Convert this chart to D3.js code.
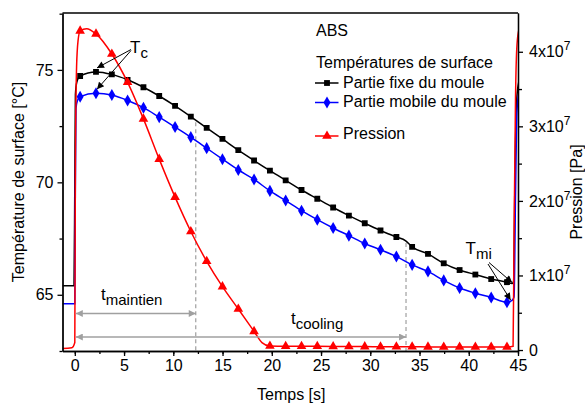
<!DOCTYPE html>
<html>
<head>
<meta charset="utf-8">
<script src="https://cdn.jsdelivr.net/npm/d3@7"></script>
<style>
  body { margin: 0; background: #fff; }
  svg { font-family: "Liberation Sans", Arial, sans-serif; }
</style>
</head>
<body>
<div id="chart"></div>
<script>
// marker times [s]
var tMarks = [0.54, 2.15, 3.76, 5.36, 6.97, 8.57, 10.18, 11.78, 13.39, 14.99, 16.6, 18.2, 19.81, 21.41,
              23.02, 24.62, 26.23, 27.83, 29.44, 31.04, 32.65, 34.25, 35.86, 37.46, 39.07, 40.67, 42.28, 43.88];
// Partie fixe du moule [°C]
var fixe = [74.73, 74.91, 74.8, 74.56, 74.23, 73.84, 73.4, 72.92, 72.42, 71.93, 71.43, 70.97, 70.52, 70.09,
            69.66, 69.27, 68.88, 68.52, 68.18, 67.86, 67.57, 67.13, 66.82, 66.4, 66.1, 65.9, 65.7, 65.56];
// Partie mobile du moule [°C]
var mobile = [73.81, 73.96, 73.88, 73.64, 73.32, 72.9, 72.46, 72.01, 71.52, 71.03, 70.55, 70.13, 69.62, 69.19,
              68.74, 68.34, 67.97, 67.63, 67.28, 67.0, 66.7, 66.33, 66.04, 65.64, 65.3, 65.07, 64.88, 64.67];
// Pression [x1e7 Pa]
var pression = [4.28, 4.24, 3.97, 3.59, 3.1, 2.56, 2.05, 1.59, 1.19, 0.85, 0.55, 0.25, 0.054, 0.05,
                0.05, 0.05, 0.048, 0.047, 0.046, 0.045, 0.044, 0.043, 0.042, 0.041, 0.04, 0.04, 0.04, 0.04];

// extra curve points between markers (start of cycle, end of cycle, kinks)
var fixeExtra = [[-1.25, 65.4], [-0.08, 65.4], [0.0, 70.0], [0.06, 73.9], [0.2, 74.45], [33.6, 67.4],
                 [44.4, 65.5], [44.55, 65.6], [44.7, 70.5], [44.85, 73.6], [45.1, 74.5]];
var mobileExtra = [[-1.25, 64.6], [0.0, 64.6], [0.05, 69.5], [0.12, 73.3], [0.28, 73.65],
                   [44.4, 64.75], [44.6, 64.9], [44.75, 69.5], [44.9, 73.2], [45.1, 74.0]];
var pressionExtra = [[-1.25, 0.02], [-0.3, 0.03], [0.0, 0.1], [0.06, 2.5], [0.18, 3.8], [0.33, 4.15],
                     [1.2, 4.31], [19.0, 0.1], [44.5, 0.05], [44.6, 1.5], [44.75, 3.4], [44.9, 4.1], [45.1, 4.3]];

var xTicks = [0, 5, 10, 15, 20, 25, 30, 35, 40, 45];
var yLeftTicks = [65, 70, 75];
var yRightTicks = [0, 1, 2, 3, 4];

var W = 585, H = 407;
var pLeft = 62.5, pRight = 518, pTop = 13, pBottom = 351;

var svg = d3.select('#chart').append('svg')
    .attr('width', W).attr('height', H);

var x = d3.scaleLinear().domain([-1.25, 45]).range([pLeft, pRight]);
var yL = d3.scaleLinear().domain([62.5, 77.53]).range([pBottom, pTop]);
var yR = d3.scaleLinear().domain([-0.013, 4.52]).range([pBottom, pTop]);

var defs = svg.append('defs');
defs.append('clipPath').attr('id', 'plot')
  .append('rect').attr('x', pLeft).attr('y', pTop).attr('width', pRight - pLeft).attr('height', pBottom - pTop);

function merge(vals, extra) {
    var pts = tMarks.map(function(t, i) { return [t, vals[i]]; }).concat(extra);
    pts.sort(function(a, b) { return a[0] - b[0]; });
    return pts;
}

var series = [
    {name: 'Partie fixe du moule', vals: fixe, extra: fixeExtra, y: yL, color: '#000', sym: d3.symbolSquare, size: 34},
    {name: 'Partie mobile du moule', vals: mobile, extra: mobileExtra, y: yL, color: '#0000ff', sym: d3.symbolDiamond, size: 42},
    {name: 'Pression', vals: pression, extra: pressionExtra, y: yR, color: '#ff0000', sym: d3.symbolTriangle, size: 40}
];

// dashed markers of the time intervals
var gray = '#a0a0a0';
var fixePts = merge(fixe, fixeExtra);
[12.28, 33.63].forEach(function(t) {
    var i = d3.bisector(function(d) { return d[0]; }).left(fixePts, t);
    var a = fixePts[i - 1], b = fixePts[i];
    var v = a[1] + (b[1] - a[1]) * (t - a[0]) / (b[0] - a[0]);
    svg.append('line')
        .attr('x1', x(t)).attr('x2', x(t))
        .attr('y1', yL(v) + 2).attr('y2', pBottom)
        .attr('stroke', gray).attr('stroke-width', 1.2).attr('stroke-dasharray', '4,3');
});

var plot = svg.append('g').attr('clip-path', 'url(#plot)');

series.forEach(function(s) {
    var line = d3.line()
        .x(function(d) { return x(d[0]); })
        .y(function(d) { return s.y(d[1]); })
        .curve(d3.curveMonotoneX);
    plot.append('path')
        .datum(merge(s.vals, s.extra))
        .attr('d', line)
        .attr('fill', 'none')
        .attr('stroke', s.color)
        .attr('stroke-width', 1.5);
    plot.selectAll(null)
        .data(tMarks)
        .enter().append('path')
        .attr('d', d3.symbol().type(s.sym).size(s.size))
        .attr('transform', function(t, i) { return 'translate(' + x(t) + ',' + s.y(s.vals[i]) + ')'; })
        .attr('fill', s.color);
});

// axes
function styleAxis(g) {
    g.select('.domain').attr('stroke', '#000').attr('stroke-width', 1.3);
    g.selectAll('.tick line').attr('stroke', '#000').attr('stroke-width', 1.3);
    g.selectAll('.tick text').attr('font-size', 16).attr('fill', '#000')
        .attr('font-family', '"Liberation Sans", Arial, sans-serif');
}

var minorX = d3.range(0, 45.1, 2.5);
svg.append('g').attr('transform', 'translate(0,' + pBottom + ')')
    .call(d3.axisBottom(x).tickValues(minorX).tickSize(3).tickFormat('').tickSizeOuter(0)).call(styleAxis);
svg.append('g').attr('transform', 'translate(0,' + pBottom + ')')
    .call(d3.axisBottom(x).tickValues(xTicks).tickSize(5).tickPadding(4).tickSizeOuter(0)).call(styleAxis);

svg.append('g').attr('transform', 'translate(' + pLeft + ',0)')
    .call(d3.axisLeft(yL).tickValues([62.5, 67.5, 72.5, 77.5]).tickSize(3).tickFormat('').tickSizeOuter(0)).call(styleAxis);
svg.append('g').attr('transform', 'translate(' + pLeft + ',0)')
    .call(d3.axisLeft(yL).tickValues(yLeftTicks).tickSize(5).tickPadding(4).tickSizeOuter(0)).call(styleAxis);

svg.append('g').attr('transform', 'translate(' + pRight + ',0)')
    .call(d3.axisRight(yR).tickValues([0.5, 1.5, 2.5, 3.5]).tickSize(4).tickFormat('').tickSizeOuter(0)).call(styleAxis);
var rAxis = svg.append('g').attr('transform', 'translate(' + pRight + ',0)')
    .call(d3.axisRight(yR).tickValues(yRightTicks).tickSize(5).tickPadding(6).tickSizeOuter(0)).call(styleAxis);
rAxis.selectAll('.tick text').each(function(d) {
    var t = d3.select(this).text('');
    if (d === 0) { t.text('0'); return; }
    t.append('tspan').text(d + 'x10');
    t.append('tspan').attr('dy', -7).attr('font-size', 12).text('7');
});

// top frame
svg.append('line').attr('x1', pLeft).attr('x2', pRight).attr('y1', pTop).attr('y2', pTop)
    .attr('stroke', '#000').attr('stroke-width', 1.3);

// axis titles
svg.append('text').attr('x', (pLeft + pRight) / 2 + 1).attr('y', 400)
    .attr('text-anchor', 'middle').attr('font-size', 16).text('Temps [s]');
svg.append('text').attr('transform', 'translate(24,' + ((pTop + pBottom) / 2) + ') rotate(-90)')
    .attr('text-anchor', 'middle').attr('font-size', 16).text('Température de surface [°C]');
svg.append('text').attr('transform', 'translate(582,192) rotate(-90)')
    .attr('text-anchor', 'middle').attr('font-size', 16).text('Pression [Pa]');

// legend
svg.append('text').attr('x', 316).attr('y', 36).attr('font-size', 16).text('ABS');
svg.append('text').attr('x', 316).attr('y', 67.5).attr('font-size', 16).text('Températures de surface');
var legY = [83, 102.5, 136];
var legTextY = [87.5, 106.5, 139];
series.forEach(function(s, i) {
    svg.append('line').attr('x1', 315).attr('x2', 338.5).attr('y1', legY[i]).attr('y2', legY[i])
        .attr('stroke', s.color).attr('stroke-width', 1.5);
    svg.append('path').attr('d', d3.symbol().type(s.sym).size(s.size))
        .attr('transform', 'translate(327,' + legY[i] + ')').attr('fill', s.color);
    svg.append('text').attr('x', 343).attr('y', legTextY[i]).attr('font-size', 16).text(s.name);
});

// arrow heads
function marker(id, color) {
    defs.append('marker').attr('id', id)
        .attr('viewBox', '0 0 10 10').attr('refX', 10).attr('refY', 5)
        .attr('markerWidth', 10).attr('markerHeight', 7).attr('markerUnits', 'userSpaceOnUse')
        .attr('orient', 'auto-start-reverse')
        .append('path').attr('d', 'M0,0 L10,5 L0,10 z').attr('fill', color);
}
marker('arrBlack', '#000');
marker('arrGray', gray);

function subLabel(xp, yp, main, sub, size, subSize) {
    var t = svg.append('text').attr('x', xp).attr('y', yp).attr('font-size', size);
    t.append('tspan').text(main);
    t.append('tspan').attr('dy', 5).attr('font-size', subSize).text(sub);
}

// T_c annotation
subLabel(130, 52.5, 'T', 'c', 17, 15);
[[fixe, 0.5], [mobile, 1.5]].forEach(function(a) {
    svg.append('line')
        .attr('x1', 131).attr('y1', 49 + a[1])
        .attr('x2', x(tMarks[1]) + 1).attr('y2', yL(a[0][1]) - 4)
        .attr('stroke', '#000').attr('stroke-width', 1).attr('marker-end', 'url(#arrBlack)');
});

// T_mi annotation
subLabel(465.5, 253.5, 'T', 'mi', 17, 15);
svg.append('line').attr('x1', 489).attr('y1', 262.5).attr('x2', x(44.4)).attr('y2', yL(65.5) - 1)
    .attr('stroke', '#000').attr('stroke-width', 1).attr('marker-end', 'url(#arrBlack)');
svg.append('line').attr('x1', 488).attr('y1', 264).attr('x2', x(44.25)).attr('y2', yL(64.72) - 1)
    .attr('stroke', '#000').attr('stroke-width', 1).attr('marker-end', 'url(#arrBlack)');

// time interval arrows
[[12.28, 313.5], [33.63, 337]].forEach(function(a) {
    svg.append('line').attr('x1', x(0) + 1).attr('x2', x(a[0]))
        .attr('y1', a[1]).attr('y2', a[1])
        .attr('stroke', gray).attr('stroke-width', 1.5)
        .attr('marker-start', 'url(#arrGray)').attr('marker-end', 'url(#arrGray)');
});
subLabel(101, 300, 't', 'maintien', 17, 15);
subLabel(291, 323.5, 't', 'cooling', 17, 15);
</script>
</body>
</html>
